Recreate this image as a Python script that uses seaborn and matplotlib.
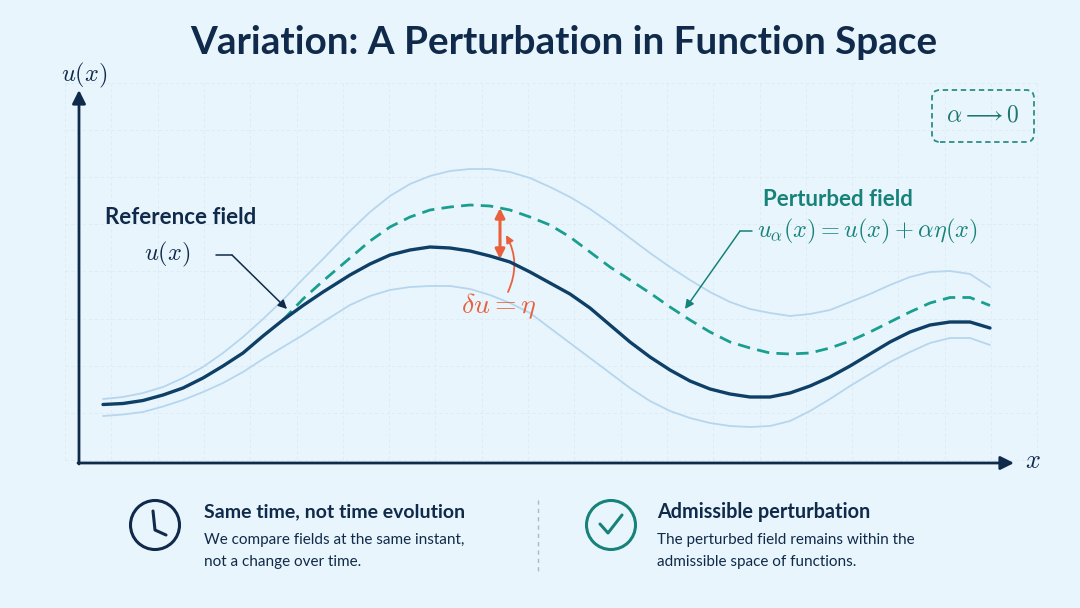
import numpy as np
import pandas as pd
import matplotlib
matplotlib.use("Agg")
import matplotlib.pyplot as plt
import seaborn as sns
from matplotlib.patches import Circle, FancyBboxPatch

# ---------------- data (x along the axis, u measured up from the x-axis) ----------------
x_vals = [0.24, 0.44, 0.64, 0.84, 1.04, 1.24, 1.44, 1.64, 1.84, 2.04, 2.24, 2.44, 2.71, 2.91, 3.11,
          3.31, 3.51, 3.71, 3.91, 4.11, 4.31, 4.51, 4.71, 4.91, 5.11, 5.31, 5.51, 5.71, 5.91, 6.11,
          6.31, 6.51, 6.71, 6.91, 7.11, 7.31, 7.51, 7.71, 7.91, 8.11, 8.31, 8.51, 8.71, 8.91, 9.11]
u_ref = [0.585, 0.595, 0.625, 0.68, 0.75, 0.85, 0.97, 1.10, 1.27, 1.43, 1.575, 1.71, 1.88, 1.99, 2.08,
         2.13, 2.16, 2.15, 2.12, 2.07, 2.01, 1.91, 1.80, 1.69, 1.55, 1.38, 1.21, 1.06, 0.93, 0.82,
         0.74, 0.69, 0.66, 0.66, 0.70, 0.77, 0.86, 0.97, 1.09, 1.21, 1.31, 1.38, 1.41, 1.41, 1.35]
u_upper = [0.64, 0.66, 0.70, 0.76, 0.85, 0.96, 1.10, 1.26, 1.44, 1.63, 1.84, 2.04, 2.32, 2.51, 2.67,
           2.79, 2.87, 2.92, 2.94, 2.94, 2.91, 2.85, 2.76, 2.66, 2.54, 2.40, 2.25, 2.10, 1.96, 1.83,
           1.71, 1.61, 1.54, 1.50, 1.47, 1.49, 1.53, 1.61, 1.69, 1.78, 1.86, 1.91, 1.92, 1.89, 1.76]
u_lower = [0.47, 0.485, 0.51, 0.565, 0.63, 0.71, 0.80, 0.91, 1.04, 1.16, 1.28, 1.41, 1.58, 1.67, 1.73,
           1.76, 1.77, 1.77, 1.74, 1.68, 1.60, 1.50, 1.35, 1.20, 1.05, 0.90, 0.75, 0.62, 0.52, 0.45,
           0.40, 0.37, 0.36, 0.37, 0.42, 0.52, 0.64, 0.77, 0.89, 1.01, 1.11, 1.20, 1.25, 1.25, 1.18]
u_pert = [np.nan] * 9 + [1.43, 1.64, 1.82, 2.05, 2.22, 2.36,
                         2.46, 2.53, 2.56, 2.58, 2.57, 2.53, 2.46, 2.38, 2.26, 2.11, 1.96, 1.83, 1.70, 1.56,
                         1.43, 1.31, 1.21, 1.15, 1.10, 1.09, 1.10, 1.15, 1.22, 1.31, 1.41, 1.51, 1.60,
                         1.655, 1.655, 1.575]

title = "Variation: A Perturbation in Function Space"
ref_label = "Reference field"
pert_label = "Perturbed field"
card1_title = "Same time, not time evolution"
card1_lines = ["We compare fields at the same instant,", "not a change over time."]
card2_title = "Admissible perturbation"
card2_lines = ["The perturbed field remains within the", "admissible space of functions."]

# ---------------- style ----------------
sns.set_theme(style="white")
plt.rcParams["font.family"] = ["Lato", "DejaVu Sans"]
plt.rcParams["mathtext.fontset"] = "cm"

BG = "#E9F5FC"
NAVY = "#0F2A4A"
CURVE = "#0E3F66"
LIGHT = "#B5D6EE"
TEAL = "#1A9E8F"
TEAL_T = "#17827A"
ORANGE = "#E8613C"
GRID = "#DCEBF5"

fig = plt.figure(figsize=(10.8, 6.08), dpi=100)
fig.patch.set_facecolor(BG)
ax = fig.add_axes([0, 0, 1, 1])
ax.set_facecolor(BG)
ax.set_xlim(-0.79, 10.01)
ax.set_ylim(-1.45, 4.63)
ax.axis("off")


def P(px, py):
    return ((px - 79) / 100.0, (463 - py) / 100.0)


# faint dashed grid
for k in range(22):
    gx = 65 + 46.3 * k
    a, b = P(gx, 83), P(gx, 460)
    ax.plot([a[0], b[0]], [a[1], b[1]], color=GRID, lw=0.6, ls=(0, (4, 3)), zorder=0)
for k in range(9):
    gy = 83 + 47.1 * k
    a, b = P(65, gy), P(1037, gy)
    ax.plot([a[0], b[0]], [a[1], b[1]], color=GRID, lw=0.6, ls=(0, (4, 3)), zorder=0)

df = pd.DataFrame({"x": x_vals, "ref": u_ref, "up": u_upper, "lo": u_lower, "pert": u_pert})
sns.lineplot(data=df, x="x", y="up", ax=ax, color=LIGHT, lw=1.3, zorder=2)
sns.lineplot(data=df, x="x", y="lo", ax=ax, color=LIGHT, lw=1.3, zorder=2)
sns.lineplot(data=df.dropna(), x="x", y="pert", ax=ax, color=TEAL, lw=2.0, zorder=3,
             linestyle=(0, (4.5, 2.6)))
sns.lineplot(data=df, x="x", y="ref", ax=ax, color=CURVE, lw=2.4, zorder=4)
for ln in ax.lines:
    ln.set_solid_joinstyle("round")
    ln.set_dash_joinstyle("round")
ax.set_xlabel("")
ax.set_ylabel("")

# axes arrows
ax.annotate("", xy=P(79, 90), xytext=P(79, 464),
            arrowprops=dict(arrowstyle="-|>", color=NAVY, lw=2.0, mutation_scale=20, shrinkA=0, shrinkB=0))
ax.annotate("", xy=P(1014, 463), xytext=P(78, 463),
            arrowprops=dict(arrowstyle="-|>", color=NAVY, lw=2.0, mutation_scale=20, shrinkA=0, shrinkB=0))
ax.text(*P(84, 75), r"$u(x)$", color=NAVY, fontsize=17.5, ha="center", va="center")
ax.text(*P(1033, 461), r"$x$", color=NAVY, fontsize=19, ha="center", va="center")

# title
ax.text(*P(564, 42), title, color=NAVY, fontsize=27.8, fontweight="bold", ha="center", va="center")

# reference field label + arrow
ax.text(*P(105, 217), ref_label, color=NAVY, fontsize=16, fontweight="bold", ha="left", va="center")
ax.text(*P(167, 254), r"$u(x)$", color=NAVY, fontsize=17.5, ha="center", va="center")
a, b = P(216, 255), P(232, 255)
ax.plot([a[0], b[0]], [a[1], b[1]], color=NAVY, lw=1.1)
ax.annotate("", xy=P(287, 309), xytext=P(232, 255),
            arrowprops=dict(arrowstyle="-|>", color=NAVY, lw=1.1, mutation_scale=13, shrinkA=0, shrinkB=0))

# perturbed field label + arrow
ax.text(*P(763, 199), pert_label, color=TEAL_T, fontsize=16, fontweight="bold", ha="left", va="center")
ax.text(*P(757, 231), r"$u_{\alpha}(x) = u(x) + \alpha\eta(x)$", color=TEAL_T, fontsize=17.5,
        ha="left", va="center")
a, b = P(752, 231), P(740, 231)
ax.plot([a[0], b[0]], [a[1], b[1]], color=TEAL_T, lw=1.1)
ax.annotate("", xy=P(685, 309), xytext=P(740, 231),
            arrowprops=dict(arrowstyle="-|>", color=TEAL_T, lw=1.1, mutation_scale=13, shrinkA=0, shrinkB=0))

# delta u = eta
ax.annotate("", xy=P(500, 208), xytext=P(500, 259),
            arrowprops=dict(arrowstyle="<|-|>", color=ORANGE, lw=2.2, mutation_scale=14, shrinkA=0, shrinkB=0))
ax.annotate("", xy=P(506, 235), xytext=P(508, 292),
            arrowprops=dict(arrowstyle="-|>", color=ORANGE, lw=1.3, mutation_scale=11, shrinkA=0, shrinkB=0,
                            connectionstyle="arc3,rad=0.25"))
ax.text(*P(499, 306), r"$\delta u = \eta$", color=ORANGE, fontsize=20, ha="center", va="center")

# alpha -> 0 box
x0, y0 = P(932, 142)
x1, y1 = P(1034, 90)
box = FancyBboxPatch((x0, y0), x1 - x0, y1 - y0, boxstyle="round,pad=0,rounding_size=0.08",
                     fc="none", ec="#2B8E86", lw=1.3, ls=(0, (3, 2)), zorder=5)
ax.add_patch(box)
ax.text(*P(983, 115), r"$\alpha \longrightarrow 0$", color="#1D766F", fontsize=17, ha="center", va="center")

# bottom cards
c = Circle(P(155, 525), 0.245, fc="none", ec=NAVY, lw=2.2)
ax.add_patch(c)
h = [P(153, 511), P(155, 530), P(166, 535)]
ax.plot([p[0] for p in h], [p[1] for p in h], color=NAVY, lw=2.2, solid_capstyle="round",
        solid_joinstyle="round")
ax.text(*P(204, 512), card1_title, color=NAVY, fontsize=14, fontweight="bold", ha="left", va="center")
for i, line in enumerate(card1_lines):
    ax.text(*P(204, 540 + 22 * i), line, color=NAVY, fontsize=11, ha="left", va="center")

a, b = P(538, 500), P(538, 573)
ax.plot([a[0], b[0]], [a[1], b[1]], color="#A9B8C4", lw=1.0, ls=(0, (3, 3)))

c2 = Circle(P(611, 525), 0.245, fc="none", ec=TEAL_T, lw=2.2)
ax.add_patch(c2)
ck = [P(600, 524), P(608, 533), P(622, 515)]
ax.plot([p[0] for p in ck], [p[1] for p in ck], color=TEAL_T, lw=2.2, solid_capstyle="round",
        solid_joinstyle="round")
ax.text(*P(657, 512), card2_title, color=NAVY, fontsize=14.3, fontweight="bold", ha="left", va="center")
for i, line in enumerate(card2_lines):
    ax.text(*P(657, 540 + 22 * i), line, color=NAVY, fontsize=11, ha="left", va="center")

fig.savefig("out.png", dpi=100, facecolor=BG)
